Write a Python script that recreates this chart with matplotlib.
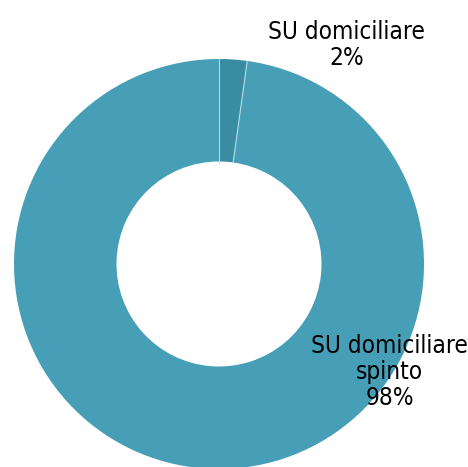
import numpy as np
import matplotlib.pyplot as plt

# Quote delle due categorie
etichette = ['SU domiciliare', 'SU domiciliare\nspinto']
valori = [2.2, 97.8]
percentuali = ['2%', '98%']
colori = ['#3a8ca2', '#479fb7']

fig = plt.figure(figsize=(4.68, 4.67), dpi=100)
ax = fig.add_axes([0, 0, 1, 1])

ax.pie(valori, colors=colori, startangle=90, counterclock=False,
       radius=1.0, wedgeprops=dict(width=0.5, edgecolor='none'))

# linee di separazione tra le fette
cum = np.cumsum([0] + valori[:-1]) / sum(valori)
for c in cum:
    a = np.deg2rad(90 - 360 * c)
    ax.plot([0.5 * np.cos(a), np.cos(a)], [0.5 * np.sin(a), np.sin(a)],
            color='#b5dbe5', lw=0.8)

# Etichette esterne
pos = [(0.622, 1.07), (0.832, -0.527)]
for lab, pc, (x, y) in zip(etichette, percentuali, pos):
    ax.text(x, y, lab + '\n' + pc, ha='center', va='center', fontsize=17.5,
            family='DejaVu Sans', fontstretch='condensed',
            linespacing=1.12, color='black')

ax.set_xlim(-219 / 205, (468 - 219) / 205)
ax.set_ylim((264 - 467) / 205, 264 / 205)
ax.set_aspect('auto')
ax.axis('off')

fig.savefig('out.png', dpi=100)
